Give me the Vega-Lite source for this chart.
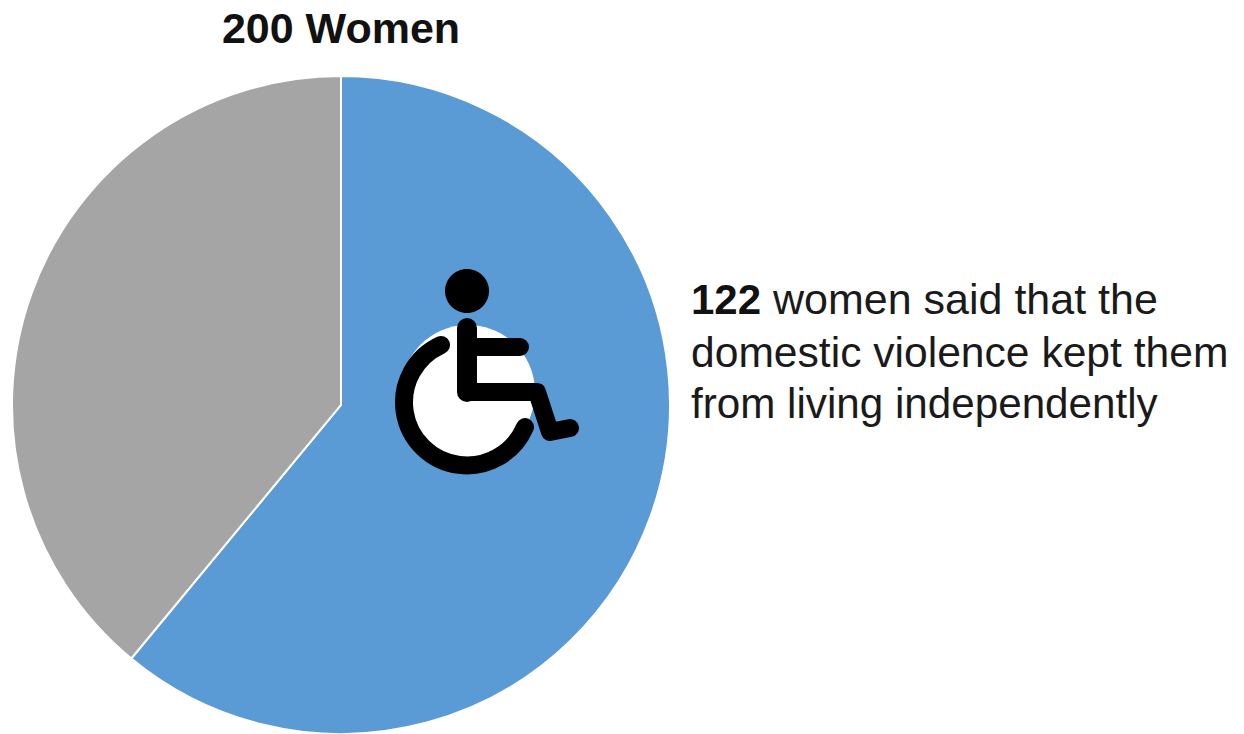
{
  "$schema": "https://vega.github.io/schema/vega-lite/v6.json",
  "width": 658,
  "height": 658,
  "autosize": {"type": "none"},
  "padding": {"left": 12, "top": 76, "right": 574, "bottom": 0},
  "background": "white",
  "view": {"stroke": null},
  "datasets": {
    "answers": [
      {"answer": "Kept from living independently", "women": 122, "rank": 1},
      {"answer": "Other", "women": 78, "rank": 2}
    ],
    "heading": [{"label": "200 Women"}],
    "count": [{"label": "122"}],
    "line1": [{"label": "women said that the"}],
    "line2": [{"label": "domestic violence kept them"}],
    "line3": [{"label": "from living independently"}],
    "icon": [{"name": "wheelchair"}]
  },
  "layer": [
    {
      "data": {"name": "answers"},
      "mark": {"type": "arc", "outerRadius": 329, "stroke": "white", "strokeWidth": 2},
      "encoding": {
        "theta": {"field": "women", "type": "quantitative", "stack": true},
        "order": {"field": "rank", "type": "ordinal"},
        "color": {
          "field": "answer",
          "type": "nominal",
          "legend": null,
          "scale": {
            "domain": ["Kept from living independently", "Other"],
            "range": ["#5B9BD5", "#A5A5A5"]
          }
        }
      }
    },
    {
      "data": {"name": "icon"},
      "mark": {
        "type": "point", "filled": true, "size": 4, "opacity": 1, "fill": "white", "strokeWidth": 0,
        "shape": "M60,-13 A67,67 0 1 0 194,-13 A67,67 0 1 0 60,-13 Z"
      },
      "encoding": {}
    },
    {
      "data": {"name": "icon"},
      "mark": {
        "type": "point", "filled": true, "size": 4, "opacity": 1, "fill": "black", "strokeWidth": 0,
        "shape": "M104,-114 A22,22 0 1 0 148,-114 A22,22 0 1 0 104,-114 Z"
      },
      "encoding": {}
    },
    {
      "data": {"name": "icon"},
      "mark": {
        "type": "point", "filled": false, "size": 4, "opacity": 1, "stroke": "black", "strokeWidth": 18,
        "strokeCap": "round", "strokeJoin": "round",
        "shape": "M100,-60 A63,63 0 1 0 184,22"
      },
      "encoding": {}
    },
    {
      "data": {"name": "icon"},
      "mark": {
        "type": "point", "filled": false, "size": 4, "opacity": 1, "stroke": "black", "strokeWidth": 20,
        "strokeCap": "round", "strokeJoin": "round",
        "shape": "M126,-77 L126,-13"
      },
      "encoding": {}
    },
    {
      "data": {"name": "icon"},
      "mark": {
        "type": "point", "filled": false, "size": 4, "opacity": 1, "stroke": "black", "strokeWidth": 18,
        "strokeCap": "round", "strokeJoin": "round",
        "shape": "M126,-13 L196,-13 L209,27 L229,23 M126,-58 L179,-58"
      },
      "encoding": {}
    },
    {
      "data": {"name": "heading"},
      "mark": {"type": "text", "font": "Liberation Sans", "fontWeight": "bold", "fontSize": 43, "align": "center", "baseline": "alphabetic", "dy": -362, "color": "#111111"},
      "encoding": {"text": {"field": "label"}}
    },
    {
      "data": {"name": "count"},
      "mark": {"type": "text", "font": "Liberation Sans", "fontWeight": "bold", "fontSize": 42, "align": "left", "baseline": "alphabetic", "dx": 350, "dy": -91, "color": "#111111"},
      "encoding": {"text": {"field": "label"}}
    },
    {
      "data": {"name": "line1"},
      "mark": {"type": "text", "font": "Liberation Sans", "fontSize": 43, "align": "left", "baseline": "alphabetic", "dx": 432, "dy": -91, "color": "#1a1a1a"},
      "encoding": {"text": {"field": "label"}}
    },
    {
      "data": {"name": "line2"},
      "mark": {"type": "text", "font": "Liberation Sans", "fontSize": 42.6, "align": "left", "baseline": "alphabetic", "dx": 350, "dy": -38, "color": "#1a1a1a"},
      "encoding": {"text": {"field": "label"}}
    },
    {
      "data": {"name": "line3"},
      "mark": {"type": "text", "font": "Liberation Sans", "fontSize": 42.2, "align": "left", "baseline": "alphabetic", "dx": 350, "dy": 13, "color": "#1a1a1a"},
      "encoding": {"text": {"field": "label"}}
    }
  ]
}
